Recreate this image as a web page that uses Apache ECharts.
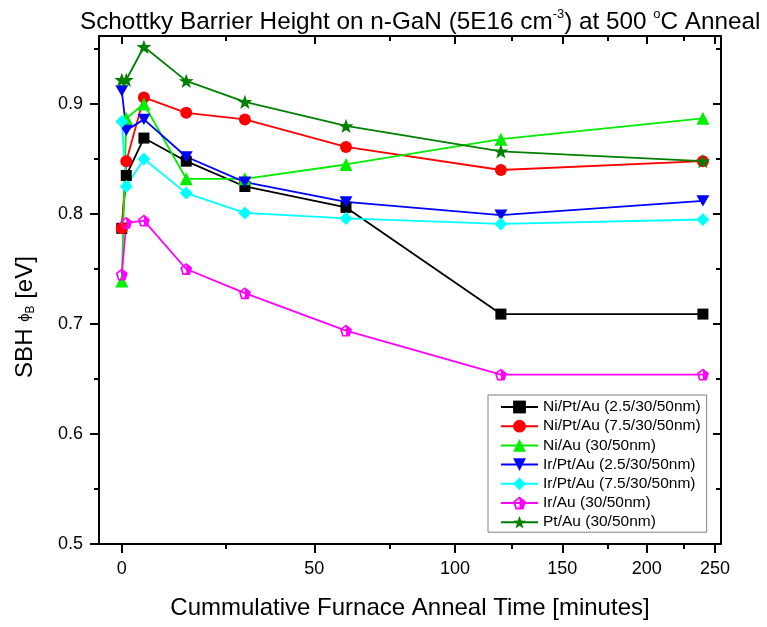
<!DOCTYPE html>
<html><head><meta charset="utf-8">
<script src="https://cdn.jsdelivr.net/npm/echarts@6/dist/echarts.min.js"></script>
<style>html,body{margin:0;padding:0;background:#fff}#c{width:767px;height:627px}</style>
</head><body><div id="c"></div><script>
// ---------- data ----------
const times = [0, 1, 5, 15, 30, 60, 120, 240]; // cumulative anneal time [minutes]
const seriesNames = [
  'Ni/Pt/Au (2.5/30/50nm)', 'Ni/Pt/Au (7.5/30/50nm)', 'Ni/Au (30/50nm)',
  'Ir/Pt/Au (2.5/30/50nm)', 'Ir/Pt/Au (7.5/30/50nm)', 'Ir/Au (30/50nm)', 'Pt/Au (30/50nm)'
];
const niPtAu25 = [0.787, 0.835, 0.869, 0.848, 0.825, 0.806, 0.709, 0.709];
const niPtAu75 = [0.787, 0.848, 0.906, 0.892, 0.886, 0.861, 0.840, 0.848];
const niAu     = [0.739, 0.887, 0.900, 0.832, 0.832, 0.845, 0.868, 0.887];
const irPtAu25 = [0.912, 0.876, 0.886, 0.852, 0.829, 0.811, 0.799, 0.812];
const irPtAu75 = [0.884, 0.825, 0.850, 0.819, 0.801, 0.796, 0.791, 0.795];
const irAu     = [0.745, 0.792, 0.794, 0.750, 0.728, 0.694, 0.654, 0.654];
const ptAu     = [0.922, 0.922, 0.952, 0.921, 0.902, 0.880, 0.857, 0.848];
const xTickLabels = [0, 50, 100, 150, 200, 250];
const xMinorTicks = [25, 75, 125, 175, 225];
const yTickLabels = [0.5, 0.6, 0.7, 0.8, 0.9];
const yMinorTicks = [0.55, 0.65, 0.75, 0.85, 0.95];
// non-linear (compressed) time axis of the original: tick minutes -> axis units
const scaleMinutes = [0, 25, 50, 75, 100, 125, 150, 175, 200, 225, 250];
const scaleUnits   = [0, 104.2, 192.5, 268.2, 333.2, 389.9, 440.5, 485.5, 524.9, 561.5, 593.2];

// ---------- axis warp (cubic Hermite through the scale table) ----------
function warp(t) {
  const m = scaleMinutes, u = scaleUnits, n = m.length;
  const sec = [];
  for (let i = 0; i < n - 1; i++) sec.push((u[i + 1] - u[i]) / (m[i + 1] - m[i]));
  const sl = [];
  sl[0] = sec[0] + (sec[0] - sec[1]) / 2;
  sl[n - 1] = sec[n - 2] + (sec[n - 2] - sec[n - 3]) / 2;
  for (let i = 1; i < n - 1; i++) sl[i] = (sec[i - 1] + sec[i]) / 2;
  let i = 0;
  while (i < n - 2 && t > m[i + 1]) i++;
  const h = m[i + 1] - m[i], s = (t - m[i]) / h;
  const h00 = 2*s*s*s - 3*s*s + 1, h10 = s*s*s - 2*s*s + s, h01 = -2*s*s*s + 3*s*s, h11 = s*s*s - s*s;
  return h00*u[i] + h10*h*sl[i] + h01*u[i+1] + h11*h*sl[i+1];
}

const FONT = 'Liberation Sans, Arial, Helvetica, sans-serif';
const X_MIN = -22.8, X_MAX = 599.2;
const Y_MIN = 0.5, Y_MAX = 0.9618;
const majorXU = xTickLabels.map(warp);
const minorXU = xMinorTicks.map(warp);

const styles = [
  { color: '#000000', symbol: 'rect', size: 11 },
  { color: '#ff0000', symbol: 'circle', size: 12 },
  { color: '#00ee00', symbol: 'triangle', size: 13 },
  { color: '#0000ff', symbol: 'path://M0,0 L100,0 L50,87 Z', size: 13 },
  { color: '#00ffff', symbol: 'diamond', size: 13 },
  { color: '#ff00ff', symbol: 'path://M50,0 L100,38 L81,100 L19,100 L0,38 Z M50,16 L16,42 L29,86 L50,86 Z', size: 12 },
  { color: '#008000', symbol: 'path://M50,0 L61.76,33.82 L97.55,34.55 L69.02,56.18 L79.39,90.45 L50,70 L20.61,90.45 L30.98,56.18 L2.45,34.55 L38.24,33.82 Z', size: 15 }
];
const allValues = [niPtAu25, niPtAu75, niAu, irPtAu25, irPtAu75, irAu, ptAu];

const series = allValues.map((vals, k) => ({
  name: seriesNames[k],
  type: 'line',
  xAxisIndex: 0, yAxisIndex: 0,
  data: times.map((t, i) => [warp(t), vals[i]]),
  symbol: styles[k].symbol,
  symbolSize: styles[k].size,
  symbolKeepAspect: true,
  showAllSymbol: true,
  lineStyle: { color: styles[k].color, width: 1.8 },
  itemStyle: { color: styles[k].color },
  emphasis: { disabled: true },
  animation: false
}));

const axisLineStyle = { color: '#000', width: 2 };

function xFormatter(v) {
  const idx = majorXU.findIndex(u => Math.abs(u - v) < 0.01);
  return idx >= 0 ? String(xTickLabels[idx]) : '';
}

const chart = echarts.init(document.getElementById('c'), null, { renderer: 'canvas' });
chart.setOption({
  backgroundColor: '#fff',
  animation: false,
  title: {
    left: 75, top: 3,
    text: '{a|Schottky Barrier Height on n-GaN (5E16 cm}{s|-3}{a|) at 500 }{s|o}{a|C Anneal}',
    textStyle: {
      fontWeight: 'normal',
      rich: {
        a: { fontSize: 24.3, fontFamily: FONT, fontWeight: 'normal', color: '#000', lineHeight: 28 },
        s: { fontSize: 13, fontFamily: FONT, fontWeight: 'normal', color: '#000', verticalAlign: 'top', lineHeight: 16 }
      }
    }
  },
  grid: [
    { left: 99, right: 46, top: 36, bottom: 83, containLabel: false },
    { left: 99, right: 46, top: 36, bottom: 83, containLabel: false }
  ],
  xAxis: [
    {
      gridIndex: 0, type: 'value', position: 'bottom', min: X_MIN, max: X_MAX,
      axisLine: { show: true, onZero: false, lineStyle: axisLineStyle },
      axisTick: { show: true, customValues: majorXU, length: 9, lineStyle: { color: '#000', width: 2 } },
      axisLabel: { show: true, customValues: majorXU, formatter: xFormatter, fontSize: 18, fontFamily: FONT, color: '#000', margin: 16 },
      splitLine: { show: false },
      name: 'Cummulative Furnace Anneal Time [minutes]',
      nameLocation: 'middle', nameGap: 52,
      nameTextStyle: { fontSize: 24, fontFamily: FONT, color: '#000' }
    },
    {
      gridIndex: 0, type: 'value', position: 'top', min: X_MIN, max: X_MAX,
      axisLine: { show: true, onZero: false, lineStyle: axisLineStyle },
      axisTick: { show: true, inside: true, customValues: majorXU, length: 8, lineStyle: { color: '#000', width: 2 } },
      axisLabel: { show: false },
      splitLine: { show: false }
    },
    {
      gridIndex: 1, type: 'value', position: 'bottom', min: X_MIN, max: X_MAX,
      axisLine: { show: false, onZero: false },
      axisTick: { show: true, customValues: minorXU, length: 5, lineStyle: { color: '#000', width: 2 } },
      axisLabel: { show: false },
      splitLine: { show: false }
    },
    {
      gridIndex: 1, type: 'value', position: 'top', min: X_MIN, max: X_MAX,
      axisLine: { show: false, onZero: false },
      axisTick: { show: true, inside: true, customValues: minorXU, length: 5, lineStyle: { color: '#000', width: 2 } },
      axisLabel: { show: false },
      splitLine: { show: false }
    }
  ],
  yAxis: [
    {
      gridIndex: 0, type: 'value', position: 'left', min: Y_MIN, max: Y_MAX,
      axisLine: { show: true, onZero: false, lineStyle: axisLineStyle },
      axisTick: { show: true, customValues: yTickLabels, length: 9, lineStyle: { color: '#000', width: 2 } },
      axisLabel: { show: true, customValues: yTickLabels, formatter: v => v.toFixed(1), fontSize: 18, fontFamily: FONT, color: '#000', margin: 16 },
      splitLine: { show: false }
    },
    {
      gridIndex: 0, type: 'value', position: 'right', min: Y_MIN, max: Y_MAX,
      axisLine: { show: true, onZero: false, lineStyle: axisLineStyle },
      axisTick: { show: true, inside: true, customValues: yTickLabels, length: 8, lineStyle: { color: '#000', width: 2 } },
      axisLabel: { show: false },
      splitLine: { show: false }
    },
    {
      gridIndex: 1, type: 'value', position: 'left', min: Y_MIN, max: Y_MAX,
      axisLine: { show: false, onZero: false },
      axisTick: { show: true, customValues: yMinorTicks, length: 5, lineStyle: { color: '#000', width: 2 } },
      axisLabel: { show: false },
      splitLine: { show: false }
    },
    {
      gridIndex: 1, type: 'value', position: 'right', min: Y_MIN, max: Y_MAX,
      axisLine: { show: false, onZero: false },
      axisTick: { show: true, inside: true, customValues: yMinorTicks, length: 5, lineStyle: { color: '#000', width: 2 } },
      axisLabel: { show: false },
      splitLine: { show: false }
    }
  ],
  legend: {
    orient: 'vertical', left: 488, top: 395,
    data: seriesNames,
    borderColor: '#808080', borderWidth: 1, borderRadius: 0,
    backgroundColor: '#fff',
    padding: [4, 6, 2, 12],
    itemWidth: 37, itemHeight: 16, itemGap: 3.2,
    selectedMode: false,
    textStyle: { fontSize: 15.5, fontFamily: FONT, color: '#000', lineHeight: 16 }
  },
  graphic: [{
    type: 'text', x: 25, y: 317, rotation: Math.PI / 2,
    style: {
      text: '{a|SBH }{p|\u03d5}{b|B}{a| [eV]}',
      align: 'center', verticalAlign: 'middle',
      rich: {
        a: { fontSize: 24, fontFamily: FONT, fill: '#000', color: '#000' },
        p: { fontSize: 15, fontFamily: FONT, fill: '#000', color: '#000' },
        b: { fontSize: 12, fontFamily: FONT, fill: '#000', color: '#000', verticalAlign: 'bottom' }
      }
    }
  }],
  series: series
});
</script></body></html>
